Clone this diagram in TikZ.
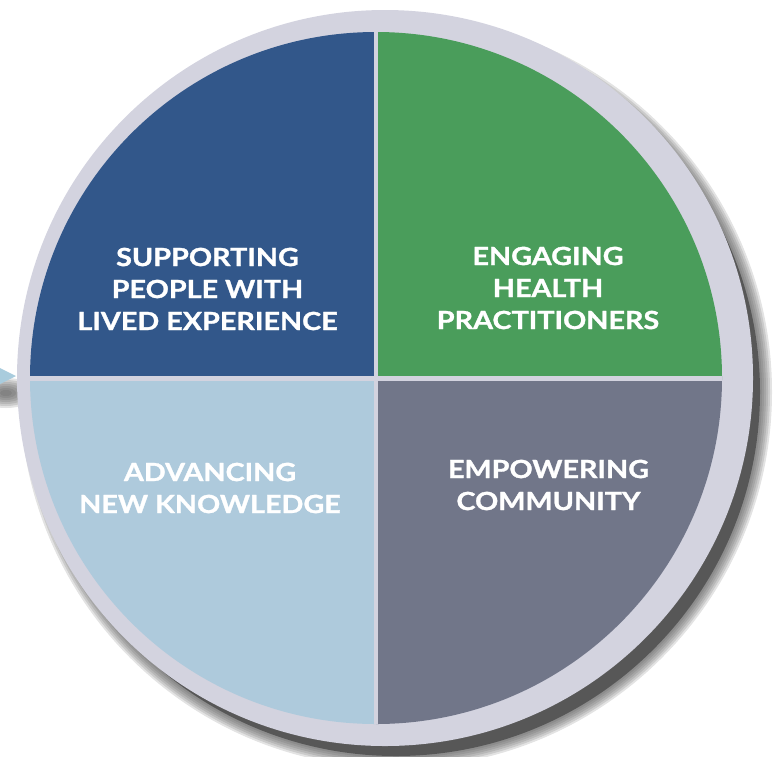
\documentclass[tikz,border=0pt]{standalone}
\usepackage{fontspec}
\setmainfont{Lato}
\newfontfamily\quadfont[FakeStretch=1.15, FakeBold=1.2]{Lato}
\usepackage{tikz}
\usetikzlibrary{positioning,calc}

\definecolor{ringgrey}{HTML}{D3D3DF}
\definecolor{supportblue}{HTML}{32578A}
\definecolor{engagegreen}{HTML}{4A9D5B}
\definecolor{advanceblue}{HTML}{AECADC}
\definecolor{empowergrey}{HTML}{717689}
\definecolor{pointerblue}{HTML}{A9CCDD}
\definecolor{shadowgrey}{HTML}{4E4E4E}

\begin{document}
\begin{tikzpicture}[x=1pt, y=-1pt,
        quadtext/.style={text=white, font=\quadfont\bfseries\fontsize{25}{32}\selectfont, align=center, inner sep=0pt},
        divider/.style={draw=ringgrey, line width=4.5pt},
        softshadow/.style={fill=shadowgrey, opacity=0.16}
    ]
    \useasboundingbox (0,0) rectangle (775,756);

    \coordinate (centre) at (376,378);
    \coordinate (ringcentre) at (385,378);

    % blurred shadow of the pointer on the left
    \foreach \r in {3,5,...,15}
        \fill[softshadow] (6,393) ellipse ({\r*2} and \r);
    \fill[pointerblue] (0,368) -- (16,376) -- (0,384) -- cycle;

    % soft drop shadow under the ring
    \fill[shadowgrey, opacity=0.85] ($(ringcentre)+(11,14)$) circle (364);
    \foreach \r in {366,368,...,376}
        \fill[softshadow] ($(ringcentre)+(11,14)$) circle (\r);

    % outer ring
    \fill[ringgrey] (ringcentre) circle (368);

    % four quarters
    \begin{scope}
        \clip (centre) circle (346);
        \fill[supportblue] (centre) rectangle (0,0);
        \fill[engagegreen] (centre) rectangle (775,0);
        \fill[advanceblue] (centre) rectangle (0,756);
        \fill[empowergrey] (centre) rectangle (775,756);
        \draw[divider] (376,0) -- (376,756);
        \draw[divider] (0,378.5) -- (775,378.5);
    \end{scope}

    \node[quadtext] (support) at (207.5,289) {SUPPORTING\\PEOPLE WITH\\LIVED EXPERIENCE};
    \node[quadtext] (engage) at (548,288) {ENGAGING\\HEALTH\\PRACTITIONERS};
    \node[quadtext] (advance) at (210,488) {ADVANCING\\NEW KNOWLEDGE};
    \node[quadtext] (empower) at (548.5,485) {EMPOWERING\\COMMUNITY};

\end{tikzpicture}
\end{document}
